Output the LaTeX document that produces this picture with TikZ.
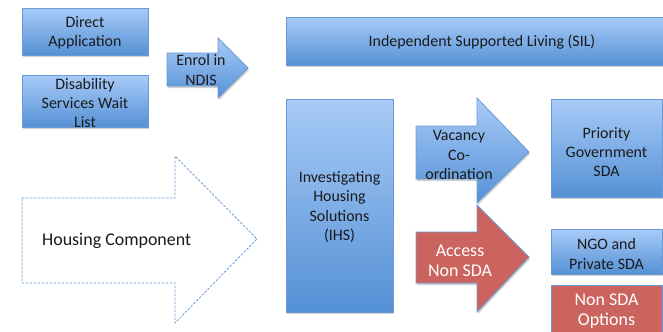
\documentclass[tikz,border=0pt]{standalone}
\usepackage{fontspec}
\setmainfont{Carlito}
\usetikzlibrary{shadows}
\definecolor{bluetop}{HTML}{A8CBF7}
\definecolor{bluebot}{HTML}{5591D6}
\definecolor{blueline}{HTML}{6A9AD6}
\definecolor{redfill}{HTML}{CB645E}
\definecolor{inktext}{HTML}{1A1A1A}
\begin{document}
\begin{tikzpicture}[x=1bp,y=-1bp,
  shade/.style={drop shadow={shadow xshift=1bp,shadow yshift=-2bp,opacity=0.3,fill=black!60}},
  bluebox/.style={draw=blueline,line width=0.8bp,top color=bluetop,bottom color=bluebot,shade},
  redbox/.style={draw=blueline,line width=0.8bp,fill=redfill,shade},
  ghost/.style={draw=blueline,line width=0.8bp,dashed,dash pattern=on 2.5bp off 1.5bp,fill=white},
  label/.style={font=\fontsize{16}{19.5}\selectfont,text=inktext,align=center,inner sep=0pt},
  redlabel/.style={font=\fontsize{18}{20}\selectfont,text=white,align=center,inner sep=0pt}]
\useasboundingbox (0,0) rectangle (663,331);

% entry routes
\draw[bluebox] (22,8) rectangle (148,55);
\node[label] (direct) at (85,33) {Direct\\Application};
\draw[bluebox] (22,75) rectangle (148,127);
\node[label] (wait) at (85,103) {Disability\\Services Wait\\List};

% enrolment arrow
\draw[bluebox] (167,53) -- (218,53) -- (218,38) -- (248,68) -- (218,98) -- (218,86) -- (167,86) -- cycle;
\node[label] (enrol) at (201,70) {Enrol in\\NDIS};

% supported living band
\draw[bluebox] (286,17) rectangle (668,65);
\node[label] (sil) at (482,42) {Independent Supported Living (SIL)};

% housing component outline arrow
\draw[ghost] (22,198) -- (175,198) -- (175,156) -- (257,239) -- (175,323) -- (175,283) -- (22,283) -- cycle;
\node[font=\fontsize{18}{21}\selectfont,text=inktext,inner sep=0pt,anchor=west] (housing) at (42,241) {Housing Component};

% investigating housing solutions column
\draw[bluebox] (286,99) rectangle (393,312);
\node[label] (ihs) at (339.5,207) {Investigating\\Housing\\Solutions\\(IHS)};

% vacancy coordination arrow
\draw[bluebox] (416,126) -- (477,126) -- (477,98) -- (529,152) -- (477,203) -- (477,179) -- (416,179) -- cycle;
\node[label] (vacancy) at (459,155) {Vacancy\\Co-\\ordination};

% access non-SDA arrow
\draw[redbox] (416,232) -- (477,232) -- (477,205) -- (529,257) -- (477,312) -- (477,283) -- (416,283) -- cycle;
\node[redlabel] (access) at (460,261) {Access\\Non SDA};

% outcomes
\draw[bluebox] (551,99) rectangle (662,197);
\node[label] (priority) at (606.5,152) {Priority\\Government\\SDA};
\draw[bluebox] (551,229) rectangle (662,274);
\node[label] (ngo) at (606.5,254) {NGO and\\Private SDA};
\draw[redbox] (551,285) rectangle (662,340);
\node[redlabel] (nonsda) at (606.5,311) {Non SDA\\Options};
\end{tikzpicture}
\end{document}
